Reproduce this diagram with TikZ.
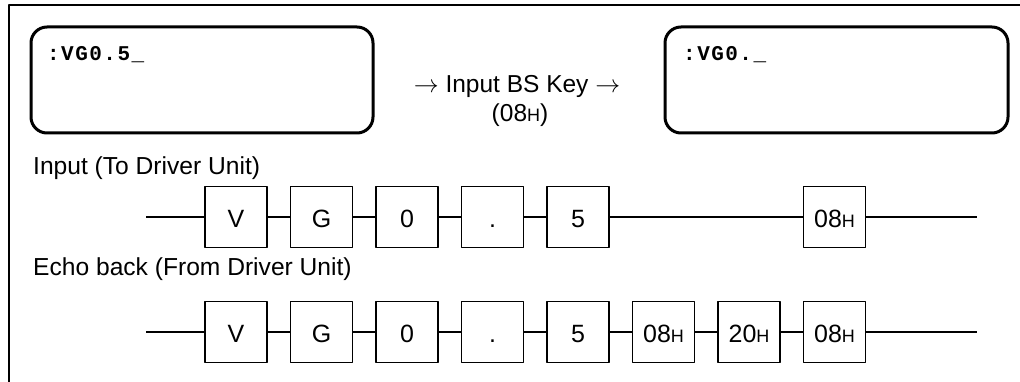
\documentclass[tikz,border=0pt]{standalone}
\usepackage{fontspec}
\setmainfont{Liberation Sans}
\newfontfamily\lcdfont[LetterSpace=7]{Liberation Mono}
\newcommand{\hexH}{{\fontsize{18}{18}\selectfont H}}
\begin{document}
\begin{tikzpicture}[x=1pt,y=1pt,line join=round]
	\tikzset{
		byte/.style={draw,line width=1.6pt,minimum width=62pt,minimum height=61pt,inner sep=0pt,
			text height=21pt,text depth=0pt,font=\fontsize{25}{28}\selectfont},
		lcd/.style={line width=3pt,rounded corners=16pt},
		wire/.style={line width=2pt},
		caption/.style={anchor=base west,inner sep=0pt,font=\fontsize{24.6}{28}\selectfont},
		lcdtext/.style={anchor=base west,inner sep=0pt,font=\fontsize{21}{24}\lcdfont\bfseries},
	}
	\useasboundingbox (0,0) rectangle (1020,-382);
	% frame
	\draw[line width=2.2pt] (1020,-5)--(9,-5)--(9,-382);
	% displays
	\draw[lcd] (31,-27) rectangle (373,-133);
	\draw[lcd] (665,-27) rectangle (1008,-133);
	\node[lcdtext] (lcdbefore) at (47,-61) {:VG0.5\_};
	\node[lcdtext] (lcdafter) at (683,-61) {:VG0.\_};
	\node[anchor=base,inner sep=0pt,font=\fontsize{24.5}{28}\selectfont] (bskey) at (517,-93) {$\rightarrow$ Input BS Key $\rightarrow$};
	\node[anchor=base,inner sep=0pt,font=\fontsize{24.5}{28}\selectfont] (bscode) at (520,-122) {(08\hexH)};
	% input row
	\node[caption] (inlabel) at (33,-175) {Input (To Driver Unit)};
	\coordinate (instart) at (146,-217);
	\coordinate (inend) at (977,-217);
	\foreach \lab [count=\i] in {V,G,0,{.},5}
	\node[byte] (in\i) at ({236+85.5*(\i-1)},-217) {\lab};
	\node[byte] (in8) at (834.5,-217) {08\hexH};
	\draw[wire] (instart)--(in1);
	\foreach \a/\b in {1/2,2/3,3/4,4/5,5/8}
	\draw[wire] (in\a)--(in\b);
	\draw[wire] (in8)--(inend);
	% echo row
	\node[caption] (eclabel) at (33,-275) {Echo back (From Driver Unit)};
	\coordinate (ecstart) at (146,-332);
	\coordinate (ecend) at (977,-332);
	\foreach \lab [count=\i] in {V,G,0,{.},5,08\hexH,20\hexH,08\hexH}
	\node[byte] (ec\i) at ({236+85.5*(\i-1)},-332) {\lab};
	\draw[wire] (ecstart)--(ec1);
	\foreach \a/\b in {1/2,2/3,3/4,4/5,5/6,6/7,7/8}
	\draw[wire] (ec\a)--(ec\b);
	\draw[wire] (ec8)--(ecend);
\end{tikzpicture}
\end{document}
